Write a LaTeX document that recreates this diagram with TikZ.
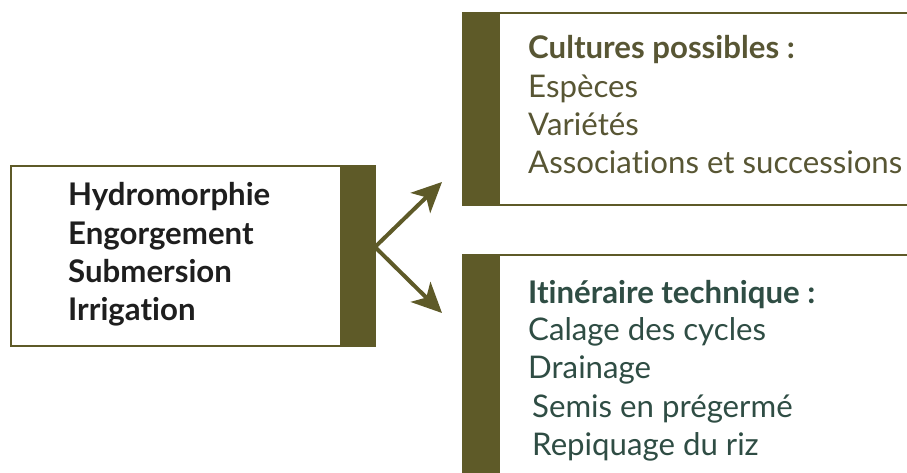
\documentclass[tikz,border=0pt]{standalone}
\usepackage{fontspec}
\setmainfont{Lato}[Ligatures=NoCommon]
\usetikzlibrary{arrows.meta}
\definecolor{barol}{RGB}{94,90,40}
\definecolor{toptxt}{RGB}{88,86,52}
\definecolor{bottxt}{RGB}{47,77,68}
\definecolor{lefttxt}{RGB}{30,30,30}
\tikzset{
  boxline/.style={draw=barol, line width=1.6pt},
  lbl/.style={anchor=base west, inner sep=0pt, font=\fontsize{31.2}{33}\selectfont},
  lblb/.style={lbl, font=\bfseries\fontsize{31.2}{33}\selectfont},
  conn/.style={draw=barol, line width=4pt, -{Stealth[length=30pt,width=28pt,inset=8pt]}}
}
\begin{document}
\begin{tikzpicture}[x=1pt,y=-1pt]
\useasboundingbox (0,0) rectangle (907,472);
\clip (0,0) rectangle (907,472);
\fill[white] (0,0) rectangle (907,472);
% left box
\node[boxline, anchor=north west, minimum width=364pt, minimum height=180pt, inner sep=0pt] (src) at (10,165) {};
\fill[barol] (340,165) rectangle (375,345);
\node[lblb, text=lefttxt] (l1) at (68,205) {Hydromorphie};
\node[lblb, text=lefttxt] (l2) at (68,244) {Engorgement};
\node[lblb, text=lefttxt] (l3) at (68,282) {Submersion};
\node[lblb, text=lefttxt] (l4) at (68,320) {Irrigation};
% top right box
\draw[boxline] (930,13) -- (463,13) -- (463,205) -- (930,205);
\fill[barol] (463,13) rectangle (500,205);
\node[lblb, text=toptxt] (t0) at (528,58) {Cultures possibles :};
\node[lbl, text=toptxt] (t1) at (528,97) {Espèces};
\node[lbl, text=toptxt] (t2) at (528,135) {Variétés};
\node[lbl, text=toptxt] (t3) at (528,173) {Associations et successions};
% bottom right box
\draw[boxline] (930,255) -- (463,255) -- (463,490);
\fill[barol] (463,255) rectangle (500,490);
\node[lblb, text=bottxt] (b0) at (528,303) {Itinéraire technique :};
\node[lbl, text=bottxt] (b1) at (528,340) {Calage des cycles};
\node[lbl, text=bottxt] (b2) at (528,378) {Drainage};
\node[lbl, text=bottxt] (b3) at (532,417) {Semis en prégermé};
\node[lbl, text=bottxt] (b4) at (532,455) {Repiquage du riz};
% arrows
\coordinate (fork) at (375,247);
\coordinate (tipa) at (442,182);
\coordinate (tipb) at (442,313);
\draw[conn] (fork) -- (tipa);
\draw[conn] (fork) -- (tipb);
\end{tikzpicture}
\end{document}
